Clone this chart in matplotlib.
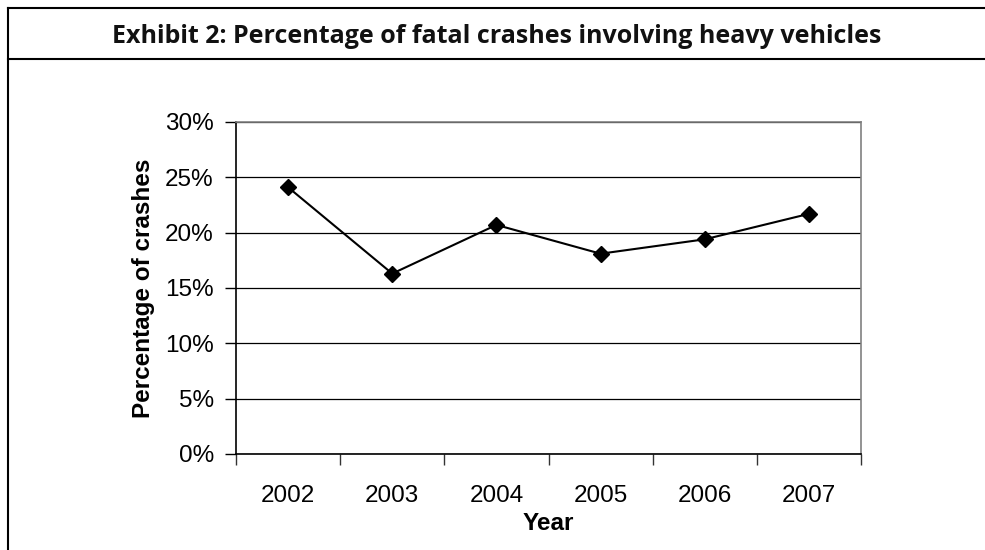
import matplotlib.pyplot as plt
from matplotlib.lines import Line2D
from matplotlib.ticker import FixedLocator, NullFormatter

years = ['2002', '2003', '2004', '2005', '2006', '2007']
pct_crashes = [24.1, 16.3, 20.7, 18.1, 19.4, 21.7]
y_ticks = [0, 5, 10, 15, 20, 25, 30]
y_labels = ['0%', '5%', '10%', '15%', '20%', '25%', '30%']

title = 'Exhibit 2: Percentage of fatal crashes involving heavy vehicles'

W, H = 985, 550
fig = plt.figure(figsize=(W / 100, H / 100), dpi=100)

# frame around exhibit (right and bottom edges fall outside the picture)
lw_box = 1.5
fig.add_artist(Line2D([8 / W, 8 / W], [0, 1 - 7.5 / H], color='black', lw=lw_box, transform=fig.transFigure))
fig.add_artist(Line2D([8 / W, 1], [1 - 7.5 / H, 1 - 7.5 / H], color='black', lw=lw_box, transform=fig.transFigure))
fig.add_artist(Line2D([8 / W, 1], [1 - 59 / H, 1 - 59 / H], color='black', lw=lw_box, transform=fig.transFigure))

fig.text(112 / W, 1 - 43 / H, title, fontsize=18, fontweight='bold',
         family='Open Sans', va='baseline', ha='left', color='#111111')

ax = fig.add_axes([236 / W, 1 - 454 / H, (861 - 236) / W, (454 - 122) / H])

x = list(range(len(years)))
ax.plot(x, pct_crashes, color='black', lw=1.5, marker='D', markersize=8,
        markerfacecolor='black', zorder=3)

ax.set_xlim(-0.5, len(years) - 0.5)
ax.set_ylim(0, 30)

ax.set_yticks(y_ticks)
ax.set_yticklabels(y_labels)
ax.yaxis.grid(True, color='black', lw=0.9)
ax.set_axisbelow(True)

# category labels centered, tick marks between categories
ax.xaxis.set_major_locator(FixedLocator([i - 0.5 for i in range(len(years) + 1)]))
ax.xaxis.set_major_formatter(NullFormatter())
ax.xaxis.set_minor_locator(FixedLocator(x))
ax.set_xticklabels(years, minor=True)
ax.tick_params(axis='x', which='minor', length=0, pad=22)
ax.tick_params(axis='x', which='major', length=8, width=1, direction='out', color='#333333')
ax.tick_params(axis='y', length=8, width=1, direction='out', pad=8)

for lab in ax.get_xticklabels(minor=True) + ax.get_yticklabels():
    lab.set_family('Liberation Sans')
    lab.set_fontsize(17.5)

ax.spines['left'].set_color('black')
ax.spines['bottom'].set_color('black')
ax.spines['top'].set_color('#808080')
ax.spines['right'].set_color('#808080')
for s in ax.spines.values():
    s.set_linewidth(1.2)

ax.set_xlabel('Year', fontsize=17.5, fontweight='bold', family='Liberation Sans', labelpad=4)
ax.set_ylabel('Percentage of crashes', fontsize=17.5, fontweight='bold', family='Liberation Sans', labelpad=7)

fig.savefig('out.png', dpi=100)
